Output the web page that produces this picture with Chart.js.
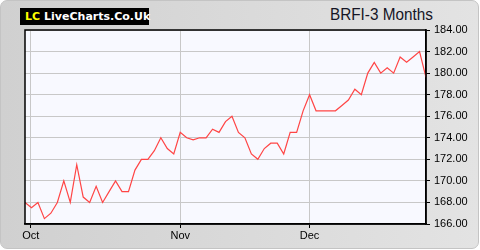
<!DOCTYPE html>
<html>
<head>
<meta charset="utf-8">
<script src="https://cdn.jsdelivr.net/npm/chart.js@4/dist/chart.umd.min.js"></script>
<style>
  body { margin: 0; background: #fff; }
  #card {
    position: absolute; left: 0; top: 0; width: 477px; height: 247px;
    border: 1px solid #c4c4c4; border-radius: 7px;
    background: linear-gradient(to right, #d0d0d0, #e3e3e3);
  }
  #logo {
    position: absolute; left: 20px; top: 8px; width: 129px; height: 17px;
    background: #000; color: #fff; font: bold 11px "DejaVu Sans", sans-serif;
    line-height: 17px; white-space: nowrap;
  }
  #logo b { color: #ffff00; margin-left: 5px; margin-right: 4px; }
  #title {
    position: absolute; left: 330px; top: 5px; font: 17px "Liberation Sans", Arial, sans-serif;
    color: #151525; transform: scaleX(0.9); transform-origin: left top; white-space: nowrap;
  }
  canvas { position: absolute; left: 0; top: 0; }
</style>
</head>
<body>
<div id="card"></div>
<div id="logo"><b>LC</b>LiveCharts.Co.Uk</div>
<div id="title">BRFI-3 Months</div>
<canvas id="chart" width="480" height="250"></canvas>
<script>
// closing prices, one per trading day
const prices = [
    168, 167.5, 168, 166.5, 167, 168, 170, 168, 171.5, 168.5,
    168, 169.5, 168, 169, 170, 169, 169, 171, 172, 172,
    172.8, 174, 173, 172.5, 174.5, 174, 173.8, 174, 174, 174.8,
    174.5, 175.5, 176, 174.5, 174, 172.5, 172, 173, 173.5, 173.5,
    172.5, 174.5, 174.5, 176.5, 178, 176.5, 176.5, 176.5, 176.5, 177,
    177.5, 178.5, 178, 180, 181, 180, 180.5, 180, 181.5, 181,
    181.5, 182, 179.6
];
const monthTicks = [0.9, 24, 44];
const monthLabels = ["Oct", "Nov", "Dec"];
const yMin = 166, yMax = 184, yStep = 2;

Chart.defaults.font.family = '"Liberation Sans", Arial, sans-serif';
Chart.defaults.font.size = 11;
Chart.defaults.color = "#000";

// plot background and black frame around chart area
const frame = {
    id: "frame",
    beforeDraw(chart) {
        const a = chart.chartArea, c = chart.ctx;
        c.save();
        c.fillStyle = "#f8f9ff";
        c.fillRect(a.left, a.top, a.right - a.left, a.bottom - a.top);
        c.restore();
    },
    afterDraw(chart) {
        const a = chart.chartArea, c = chart.ctx;
        c.save();
        c.strokeStyle = "#000";
        c.lineWidth = 1.5;
        c.strokeRect(a.left, a.top, a.right - a.left, a.bottom - a.top);
        c.restore();
    }
};

new Chart(document.getElementById("chart"), {
    type: "line",
    data: {
        datasets: [{
            data: prices.map((p, i) => ({ x: i, y: p })),
            borderColor: "#ff4545",
            borderWidth: 1.2,
            pointRadius: 0,
            tension: 0
        }]
    },
    options: {
        responsive: false,
        animation: false,
        layout: { padding: { left: 25, top: 30, right: 0, bottom: 0 } },
        plugins: { legend: { display: false }, tooltip: { enabled: false } },
        scales: {
            x: {
                type: "linear",
                min: 0,
                max: prices.length - 1,
                afterBuildTicks: s => { s.ticks = monthTicks.map(v => ({ value: v })); },
                afterFit: s => { s.height = 26; },
                ticks: {
                    autoSkip: false, maxRotation: 0, padding: 1,
                    callback: (v, i) => monthLabels[i]
                },
                grid: { color: "#c8c8c8", tickColor: "#000", tickLength: 4 },
                border: { color: "#000", width: 1.5 }
            },
            y: {
                position: "right",
                min: yMin,
                max: yMax,
                afterFit: s => { s.width = 54; },
                ticks: { stepSize: yStep, padding: 4, callback: v => v.toFixed(2) },
                grid: { color: "#c8c8c8", tickColor: "#000", tickLength: 4 },
                border: { color: "#000", width: 1.5 }
            }
        }
    },
    plugins: [frame]
});
</script>
</body>
</html>
